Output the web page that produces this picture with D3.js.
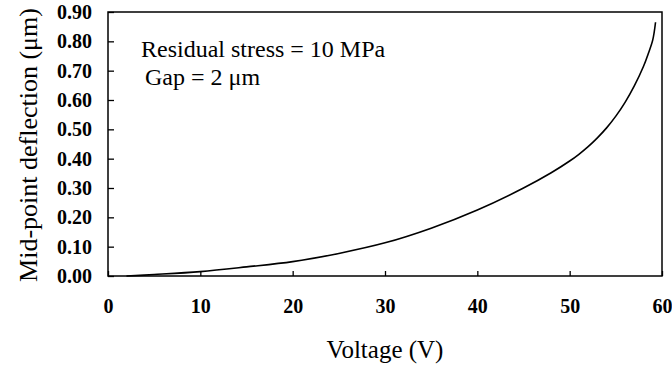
<!DOCTYPE html>
<html>
<head>
<meta charset="utf-8">
<script src="https://cdn.jsdelivr.net/npm/d3@7"></script>
<style>
html,body{margin:0;padding:0;background:#fff;}
svg{display:block;}
</style>
</head>
<body>
<svg id="chart" width="672" height="366"></svg>
<script>
const voltage = [2, 5, 10, 15, 20, 25, 30, 35, 40, 45, 48, 50, 51, 52, 53, 54, 55, 56, 57, 58, 58.5, 59, 59.3];
const deflection = [0, 0.005, 0.015, 0.031, 0.049, 0.077, 0.113, 0.163, 0.225, 0.30, 0.352, 0.392, 0.415, 0.441, 0.471, 0.505, 0.545, 0.592, 0.648, 0.715, 0.757, 0.805, 0.865];
const xTicks = [0, 10, 20, 30, 40, 50, 60];
const yTicks = [0, 0.1, 0.2, 0.3, 0.4, 0.5, 0.6, 0.7, 0.8, 0.9];
const annotation = ["Residual stress = 10 MPa", "Gap = 2 \u03bcm"];
const xTitle = "Voltage (V)";
const yTitle = "Mid-point deflection (\u03bcm)";

const svg = d3.select("#chart");
const L = 108, R = 662, T = 12, B = 276;
const x = d3.scaleLinear().domain([0, 60]).range([L, R]);
const y = d3.scaleLinear().domain([0, 0.9]).range([B, T]);
const font = "'Liberation Serif','Times New Roman',serif";

// frame
svg.append("rect").attr("x", L).attr("y", T).attr("width", R - L).attr("height", B - T)
  .attr("fill", "none").attr("stroke", "#000").attr("stroke-width", 1.5);

const yAxis = svg.append("g").attr("transform", `translate(${L},0)`)
  .call(d3.axisLeft(y).tickValues(yTicks).tickFormat(d3.format(".2f")).tickSizeInner(-6).tickSizeOuter(0).tickPadding(16));
const xAxis = svg.append("g").attr("transform", `translate(0,${B})`)
  .call(d3.axisBottom(x).tickValues(xTicks).tickFormat(d3.format("d")).tickSizeInner(-5).tickSizeOuter(0).tickPadding(23));
[yAxis, xAxis].forEach(g => {
  g.select(".domain").remove();
  g.selectAll(".tick line").attr("stroke", "#000").attr("stroke-width", 1.3);
  g.selectAll("text").attr("font-family", font).attr("font-weight", "bold")
    .attr("font-size", 20).attr("fill", "#000");
});

// curve
const pts = voltage.map((v, i) => [v, deflection[i]]);
const line = d3.line().x(d => x(d[0])).y(d => y(d[1])).curve(d3.curveCatmullRom.alpha(0.5));
svg.append("path").datum(pts).attr("d", line).attr("fill", "none")
  .attr("stroke", "#000").attr("stroke-width", 1.6);

// annotation
svg.append("text").attr("x", 141).attr("y", 57).text(annotation[0])
  .attr("font-family", font).attr("font-size", 24).attr("fill", "#000");
svg.append("text").attr("x", 145).attr("y", 85).text(annotation[1])
  .attr("font-family", font).attr("font-size", 24).attr("fill", "#000");

// titles
svg.append("text").attr("x", (L + R) / 2).attr("y", 358).attr("text-anchor", "middle")
  .text(xTitle).attr("font-family", font).attr("font-size", 25).attr("fill", "#000");
svg.append("text").attr("transform", "translate(37,145) rotate(-90)").attr("text-anchor", "middle")
  .text(yTitle).attr("font-family", font).attr("font-size", 26).attr("fill", "#000");
</script>
</body>
</html>
